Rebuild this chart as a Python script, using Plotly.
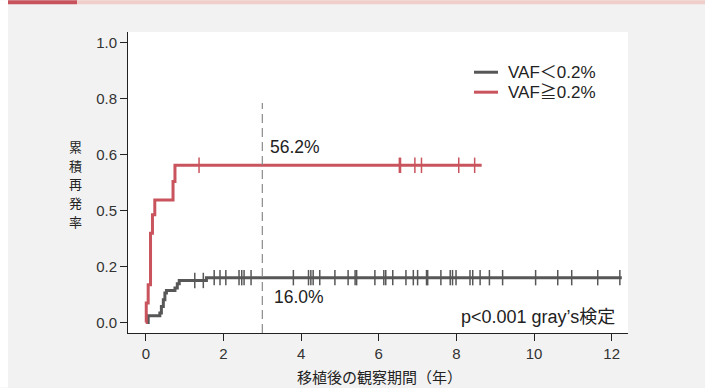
import plotly.graph_objects as go

# ---- data ----
gray_name = "VAF＜0.2%"
red_name = "VAF≧0.2%"

gray_times = [0, 0.06, 0.36, 0.40, 0.45, 0.49, 0.53, 0.75, 0.81, 0.86, 1.56, 12.26]
gray_cif = [0.0, 0.024, 0.034, 0.057, 0.081, 0.105, 0.114, 0.123, 0.138, 0.150, 0.160, 0.160]

red_times = [0, 0.01, 0.06, 0.12, 0.17, 0.23, 0.70, 0.75, 8.65]
red_cif = [0.0, 0.069, 0.135, 0.319, 0.385, 0.438, 0.504, 0.562, 0.562]

gray_censor_t = [1.26, 1.48, 1.76, 1.91, 2.06, 2.40, 2.47, 2.53, 2.71, 3.80, 4.19, 4.25,
                 4.31, 4.48, 4.87, 5.21, 5.39, 5.43, 5.90, 6.13, 6.18, 6.36, 6.70, 6.89,
                 7.00, 7.23, 7.26, 7.60, 7.84, 7.90, 7.99, 8.35, 8.42, 8.61, 8.85, 9.19,
                 10.04, 10.61, 10.97, 11.64, 12.21]
red_censor_t = [1.37, 6.53, 6.56, 6.93, 7.10, 8.06, 8.47]

x_ticks = [0, 2, 4, 6, 8, 10, 12]
y_tickvals = [0.0, 0.2, 0.4, 0.6, 0.8, 1.0]
y_ticktext = ["0.0", "0.2", "0.5", "0.6", "0.8", "1.0"]

landmark_year = 3
red_label = "56.2%"
gray_label = "16.0%"
p_text = "p<0.001 gray’s検定"
x_title = "移植後の観察期間（年）"
y_title = "累積再発率"


def cif_at(times, vals, t):
    v = vals[0]
    for ti, vi in zip(times, vals):
        if ti <= t:
            v = vi
    return v


GRAY = "#575757"
RED = "#c9545d"
FONT = "Liberation Sans, Noto Sans CJK JP, sans-serif"

# plot-area geometry in pixels
L, R, T, B = 128, 628, 31.7, 333.3
W, H = R - L, B - T


def px(x):
    return (x - L) / W


def py(y):
    return (B - y) / H


fig = go.Figure()

fig.add_trace(go.Scatter(x=gray_times, y=gray_cif, mode="lines", name=gray_name,
                         showlegend=False, line=dict(color=GRAY, width=3, shape="hv")))
fig.add_trace(go.Scatter(x=red_times, y=red_cif, mode="lines", name=red_name,
                         showlegend=False, line=dict(color=RED, width=3, shape="hv")))

fig.add_trace(go.Scatter(x=gray_censor_t, y=[cif_at(gray_times, gray_cif, t) for t in gray_censor_t],
                         mode="markers", showlegend=False, hoverinfo="skip",
                         marker=dict(symbol="line-ns", size=11, line=dict(color=GRAY, width=1.5))))
fig.add_trace(go.Scatter(x=red_censor_t, y=[cif_at(red_times, red_cif, t) for t in red_censor_t],
                         mode="markers", showlegend=False, hoverinfo="skip",
                         marker=dict(symbol="line-ns", size=11, line=dict(color=RED, width=1.5))))

# landmark dashed line
fig.add_shape(type="line", xref="x", yref="y", x0=landmark_year, x1=landmark_year,
              y0=-0.038, y1=0.785, line=dict(color="#8a8a8a", width=1.2, dash="9px,5px"))

# background decorations (outside plot area)
fig.add_shape(type="rect", xref="paper", yref="paper", layer="below",
              x0=px(0), x1=px(8), y0=py(388), y1=py(0),
              fillcolor="white", line=dict(width=0))
fig.add_shape(type="rect", xref="paper", yref="paper", layer="below",
              x0=px(8), x1=px(77), y0=py(4), y1=py(0),
              fillcolor="#c8535c", line=dict(width=0))
fig.add_shape(type="rect", xref="paper", yref="paper", layer="below",
              x0=px(77), x1=px(705), y0=py(4), y1=py(0),
              fillcolor="#f0cfcb", line=dict(width=0))

# manual legend
for i, (name, col) in enumerate([(gray_name, GRAY), (red_name, RED)]):
    yy = 72 + 20 * i
    fig.add_shape(type="line", xref="paper", yref="paper", x0=px(474), x1=px(498),
                  y0=py(yy), y1=py(yy), line=dict(color=col, width=3))
    fig.add_annotation(x=px(506), y=py(yy), xref="paper", yref="paper", text=name,
                       showarrow=False, xanchor="left", yanchor="middle",
                       font=dict(size=17, color="#222", family=FONT))

# value labels
fig.add_annotation(x=3.14, y=0.627, xref="x", yref="y", text=red_label, showarrow=False,
                   xanchor="left", yanchor="middle", font=dict(size=17.5, color="#222", family=FONT))
fig.add_annotation(x=3.25, y=0.092, xref="x", yref="y", text=gray_label, showarrow=False,
                   xanchor="left", yanchor="middle", font=dict(size=17.5, color="#222", family=FONT))
fig.add_annotation(x=px(617), y=py(317.7), xref="paper", yref="paper",
                   text=p_text, showarrow=False, xanchor="right", yanchor="middle",
                   font=dict(size=18, color="#222", family=FONT))

# vertical y-axis title (stacked characters)
for i, ch in enumerate(y_title):
    cy = 184 + 19 * (i - 2)
    fig.add_annotation(x=px(75.5), y=py(cy), xref="paper", yref="paper",
                       text=ch, showarrow=False, xanchor="center", yanchor="middle",
                       font=dict(size=13, color="#222", family="Noto Sans CJK JP"))

# x-axis title
fig.add_annotation(x=px(379), y=py(377), xref="paper", yref="paper",
                   text=x_title, showarrow=False, xanchor="center", yanchor="middle",
                   font=dict(size=15, color="#222", family="Noto Sans CJK JP"))

fig.update_layout(
    width=705, height=388,
    margin=dict(l=L, r=705 - R, t=T, b=388 - B),
    paper_bgcolor="#f2f2f2", plot_bgcolor="white",
    font=dict(family=FONT, color="#333", size=15),
    showlegend=False,
    xaxis=dict(range=[-0.46, 12.42], tickvals=x_ticks, ticks="outside", ticklen=7,
               tickcolor="#222", showline=True, linecolor="#222", linewidth=1,
               showgrid=False, zeroline=False, tickfont=dict(size=15, color="#333")),
    yaxis=dict(range=[-0.038, 1.039], tickvals=y_tickvals, ticktext=y_ticktext,
               ticks="outside", ticklen=7, tickcolor="#222", showline=True, linecolor="#222",
               linewidth=1, showgrid=False, zeroline=False, tickfont=dict(size=15, color="#333")),
)

fig.write_html("out.html", config={"displayModeBar": False},
               post_script="document.body.style.margin='0';")
